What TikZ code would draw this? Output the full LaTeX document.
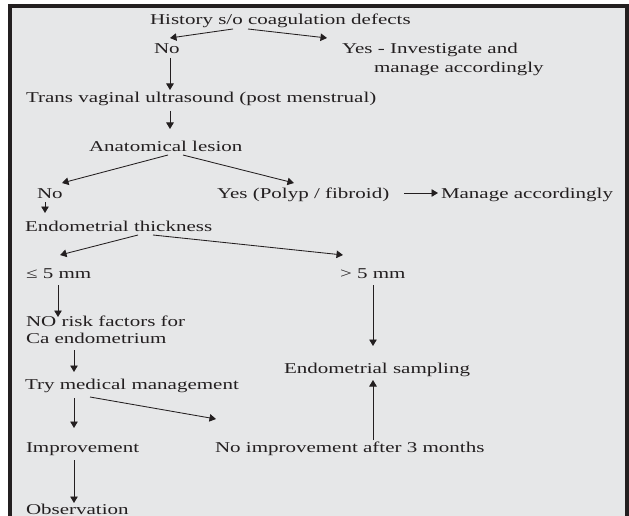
\documentclass[tikz,border=0pt]{standalone}
\usepackage{fontspec}
\setmainfont{Liberation Serif}[FakeStretch=1.4]
\usetikzlibrary{arrows.meta,calc}
\definecolor{boxfill}{HTML}{E6E7E8}
\definecolor{boxline}{HTML}{231F20}
\begin{document}
\begin{tikzpicture}[x=1pt,y=-1pt,
  lbl/.style={anchor=base west,inner sep=0pt,outer sep=0pt,text=boxline,font=\fontsize{15}{17}\selectfont},
  arr/.style={draw=boxline,line width=0.85pt,-{Triangle[length=6.5pt,width=7.5pt]}}]
\useasboundingbox (0,0) rectangle (629,516);
\clip (0,0) rectangle (629,516);
\draw[fill=boxfill,draw=boxline,line width=3.5pt] (10,6) rectangle (627,540);

\node[lbl] (h) at (150,25) {History s/o coagulation defects};
\node[lbl] (no1) at (154,54) {No};
\node[lbl] (yes1) at (342,54) {Yes - Investigate and};
\node[lbl] (yes1b) at (374,73) {manage accordingly};
\node[lbl] (tvs) at (26,103) {Trans vaginal ultrasound (post menstrual)};
\node[lbl] (al) at (89,151) {Anatomical lesion};
\node[lbl] (no2) at (37,198) {No};
\node[lbl] (yes2) at (217,198) {Yes (Polyp / fibroid)};
\node[lbl] (man) at (441,198) {Manage accordingly};
\node[lbl] (et) at (25,231) {Endometrial thickness};
\node[lbl] (le) at (26,278) {≤ 5 mm};
\node[lbl] (gt) at (340,278) {> 5 mm};
\node[lbl] (nrf) at (26,326) {NO risk factors for};
\node[lbl] (ca) at (26,343) {Ca endometrium};
\node[lbl] (es) at (284,373) {Endometrial sampling};
\node[lbl] (tmm) at (25,389) {Try medical management};
\node[lbl] (imp) at (26,452) {Improvement};
\node[lbl] (noimp) at (215,452) {No improvement after 3 months};
\node[lbl] (obs) at (26,514) {Observation};

\draw[arr] ($(h.base west)+(83,4)$) -- ($(no1.base west)+(16,-16)$);
\draw[arr] ($(h.base west)+(98,4)$) -- ($(yes1.base west)+(-15,-16)$);
\draw[arr] ($(no1.base west)+(16,4)$) -- ($(tvs.base west)+(144,-13)$);
\draw[arr] ($(tvs.base west)+(144,8)$) -- ($(al.base west)+(81,-22)$);
\draw[arr] ($(al.base west)+(79,4)$) -- ($(no2.base west)+(25,-15)$);
\draw[arr] ($(al.base west)+(94,4)$) -- ($(yes2.base west)+(77,-15)$);
\draw[arr] ($(yes2.base west)+(187,-5)$) -- ($(man.base west)+(-3,-5)$);
\draw[arr] ($(no2.base west)+(8,4)$) -- ($(et.base west)+(20,-18)$);
\draw[arr] ($(et.base west)+(113,4)$) -- ($(le.base west)+(34,-23)$);
\draw[arr] ($(et.base west)+(128,4)$) -- ($(gt.base west)+(3,-23)$);
\draw[arr] ($(le.base west)+(32,7)$) -- ($(nrf.base west)+(32,-9)$);
\draw[arr] ($(gt.base west)+(33,7)$) -- ($(es.base west)+(89,-27)$);
\draw[arr] ($(ca.base west)+(48,7)$) -- ($(tmm.base west)+(49,-17)$);
\draw[arr] ($(noimp.base west)+(158,-12)$) -- ($(es.base west)+(89,7)$);
\draw[arr] ($(tmm.base west)+(49,9)$) -- ($(imp.base west)+(48,-24)$);
\draw[arr] ($(tmm.base west)+(65,8)$) -- ($(noimp.base west)+(1,-33)$);
\draw[arr] ($(imp.base west)+(48,8)$) -- ($(obs.base west)+(48,-11)$);
\end{tikzpicture}
\end{document}
